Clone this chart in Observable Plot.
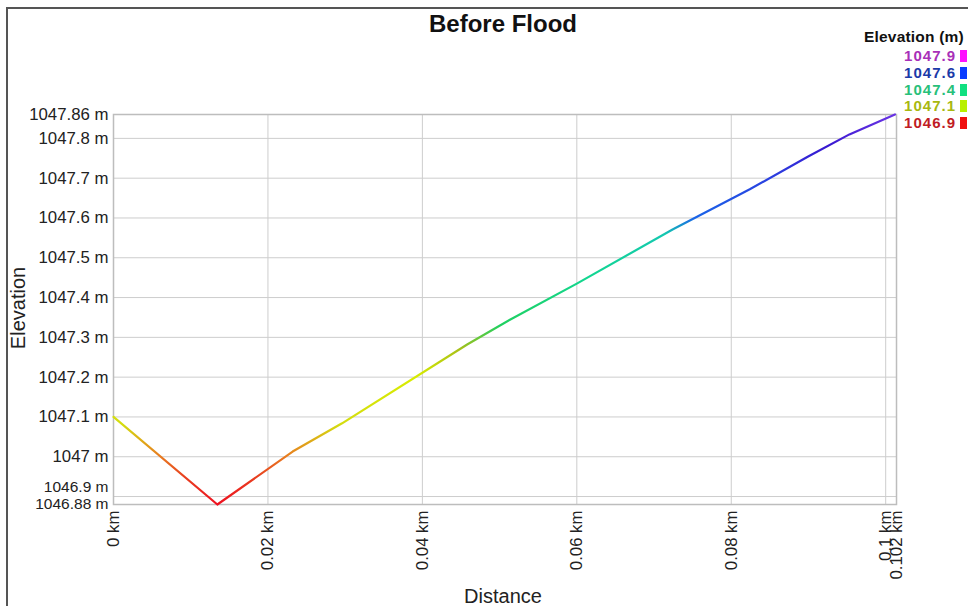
<!DOCTYPE html>
<html>
<head>
<meta charset="utf-8">
<script src="https://cdn.jsdelivr.net/npm/d3@7"></script>
<script src="https://cdn.jsdelivr.net/npm/@observablehq/plot@0.6"></script>
<style>
  html, body { margin: 0; padding: 0; background: #fff; }
  #wrap { position: relative; width: 968px; height: 606px; overflow: hidden; font-family: "Liberation Sans", Arial, sans-serif; }
  #chart { position: absolute; left: 0; top: 0; }
  #border { position: absolute; left: 6px; top: 7px; width: 1000px; height: 700px; border-top: 2px solid #555; border-left: 2px solid #555; box-sizing: border-box; }
  .title { position: absolute; left: 0; width: 1006px; top: 10px; text-align: center; font-weight: bold; font-size: 24px; color: #111; }
  .ylab { position: absolute; left: 18px; top: 308px; transform: translate(-50%, -50%) rotate(-90deg); font-size: 20px; color: #222; white-space: nowrap; }
  .xlab { position: absolute; left: 503px; top: 585px; transform: translateX(-50%); font-size: 20px; color: #222; white-space: nowrap; }
  #legend { position: absolute; left: 0; top: 0; }
  .legtitle { position: absolute; left: 864px; top: 28px; font-weight: bold; font-size: 15.5px; color: #111; white-space: nowrap; letter-spacing: 0.2px; }
  .legrow { position: absolute; font-weight: bold; font-size: 15px; letter-spacing: 1px; white-space: nowrap; }
  .sw { position: absolute; left: 960px; width: 7px; height: 12px; }
  .lowtick text { font-size: 15.5px; }
</style>
</head>
<body>
<div id="wrap">
  <div id="border"></div>
  <div id="chart"></div>
  <div class="title">Before Flood</div>
  <div class="ylab">Elevation</div>
  <div class="xlab">Distance</div>
  <div class="legtitle">Elevation (m)</div>
  <div id="legend"></div>
</div>
<script>
// ---- data ----
const distanceKm = [0, 0.01345, 0.0232, 0.0296, 0.0458, 0.0514, 0.0600, 0.0724, 0.0824, 0.0899, 0.0953, 0.1012];
const elevationM = [1047.10, 1046.88, 1047.013, 1047.084, 1047.282, 1047.345, 1047.435, 1047.571, 1047.672, 1047.754, 1047.81, 1047.86];

const yTickValues = [1047.86, 1047.8, 1047.7, 1047.6, 1047.5, 1047.4, 1047.3, 1047.2, 1047.1, 1047];
const yGridValues = [1047.8, 1047.7, 1047.6, 1047.5, 1047.4, 1047.3, 1047.2, 1047.1, 1047, 1046.9];
const xTickValues = [0, 0.02, 0.04, 0.06, 0.08, 0.1, 0.1014];
const xTickLabels = ["0 km", "0.02 km", "0.04 km", "0.06 km", "0.08 km", "0.1 km", "0.102 km"];
const xGridValues = [0.02, 0.04, 0.06, 0.08, 0.1];
const xDomain = [0, 0.1014];
const yDomain = [1046.88, 1047.86];

const legendLabels = ["1047.9", "1047.6", "1047.4", "1047.1", "1046.9"];
const legendSwatchColors = ["#ff10ff", "#0a3cff", "#10e080", "#b8f000", "#f01010"];
const legendTextColors = ["#a830b8", "#1c3aa8", "#28c07a", "#a8b810", "#c01c24"];

const gradientElev = [1046.88, 1046.95, 1047.0, 1047.08, 1047.2, 1047.27, 1047.33, 1047.45, 1047.56, 1047.6, 1047.7, 1047.78, 1047.86];
const gradientColors = ["#ee1020", "#e84020", "#e87a20", "#d4dc10", "#d8ec00", "#a8c018", "#20d060", "#12d690", "#14c8b0", "#1a64e8", "#2a40e0", "#3818d0", "#6a34e4"];

// ---- chart ----
const data = distanceKm.map((d, i) => ({distance: d, elevation: elevationM[i]}));
const fmtY = d => `${+d.toFixed(2)} m`;
const fmtX = d => xTickLabels[xTickValues.indexOf(d)];

const chart = Plot.plot({
  width: 968,
  height: 606,
  marginLeft: 113,
  marginRight: 72,
  marginTop: 114,
  marginBottom: 102,
  x: {domain: xDomain},
  y: {domain: yDomain},
  style: {fontFamily: "'Liberation Sans', Arial, sans-serif", fontSize: "16.8px", color: "#222", background: "transparent"},
  marks: [
    Plot.gridY(yGridValues, {stroke: "#cdcdcd", strokeOpacity: 1, strokeWidth: 1}),
    Plot.gridX(xGridValues, {stroke: "#cdcdcd", strokeOpacity: 1, strokeWidth: 1}),
    Plot.frame({stroke: "#bdbdbd", strokeWidth: 1.5}),
    Plot.axisY(yTickValues, {tickSize: 0, tickPadding: 5, tickFormat: fmtY, label: null}),
    Plot.axisY([yGridValues[yGridValues.length - 1]], {tickSize: 0, tickPadding: 5, tickFormat: fmtY, label: null, dy: -10, className: "lowtick"}),
    Plot.axisY([yDomain[0]], {tickSize: 0, tickPadding: 5, tickFormat: fmtY, label: null, dy: -0.5, className: "lowtick"}),
    Plot.axisX(xTickValues, {tickSize: 0, tickPadding: 6, tickRotate: -90, tickFormat: fmtX, label: null}),
    Plot.line(data, {x: "distance", y: "elevation", stroke: "url(#elevGrad)", strokeWidth: 2.2})
  ]
});

// vertical gradient by elevation, positioned with the y scale
const yScale = chart.scale("y");
const y0 = yScale.apply(yDomain[0]);
const y1 = yScale.apply(yDomain[1]);
const svg = d3.select(chart);
svg.selectAll(".lowtick text").attr("font-size", "15.5px");
const grad = svg.insert("defs", ":first-child").append("linearGradient")
  .attr("id", "elevGrad")
  .attr("gradientUnits", "userSpaceOnUse")
  .attr("x1", 0).attr("x2", 0)
  .attr("y1", y0).attr("y2", y1);
gradientElev.forEach((v, i) => {
  grad.append("stop")
    .attr("offset", (yScale.apply(v) - y0) / (y1 - y0))
    .attr("stop-color", gradientColors[i]);
});

document.getElementById("chart").appendChild(chart);

// legend
const leg = document.getElementById("legend");
legendLabels.forEach((lab, i) => {
  const t = document.createElement("div");
  t.className = "legrow";
  t.style.top = (47 + i * 16.8) + "px";
  t.style.left = "0px";
  t.style.width = "956px";
  t.style.textAlign = "right";
  t.style.color = legendTextColors[i];
  t.textContent = lab;
  leg.appendChild(t);
  const s = document.createElement("div");
  s.className = "sw";
  s.style.top = (50 + i * 16.8) + "px";
  s.style.background = legendSwatchColors[i];
  leg.appendChild(s);
});
</script>
</body>
</html>
